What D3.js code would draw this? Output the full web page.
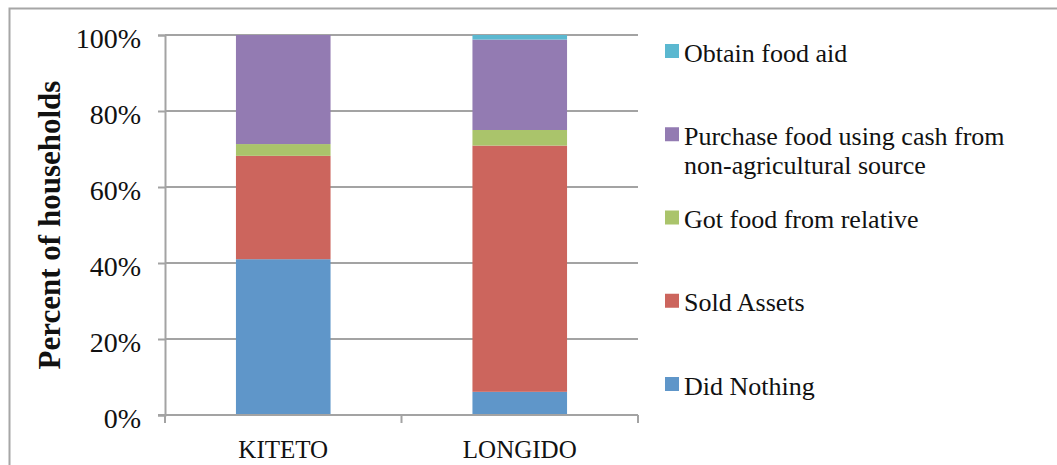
<!DOCTYPE html>
<html>
<head>
<meta charset="utf-8">
<script src="https://cdn.jsdelivr.net/npm/d3@7"></script>
<style>
  html, body { margin: 0; padding: 0; background: #fff; }
  svg { display: block; }
  text { font-family: "Liberation Serif", "Times New Roman", serif; fill: #111; }
</style>
</head>
<body>
<svg id="chart" width="1057" height="465"></svg>
<script>
// Coping strategies by district (percent of households)
const categories = ["KITETO", "LONGIDO"];
const didNothing = [41.0, 6.1];
const soldAssets = [27.2, 64.8];
const gotFoodFromRelative = [3.1, 4.1];
const purchaseFood = [28.7, 23.8];
const obtainFoodAid = [0.0, 1.2];

const seriesNames = [
  "Did Nothing",
  "Sold Assets",
  "Got food from relative",
  "Purchase food using cash from non-agricultural source",
  "Obtain food aid"
];
const seriesValues = [didNothing, soldAssets, gotFoodFromRelative, purchaseFood, obtainFoodAid];
const seriesColors = ["#5f96c9", "#cc655d", "#aac46b", "#937bb2", "#5bb8d0"];
const yTicks = [0, 20, 40, 60, 80, 100];

const rows = categories.map((c, i) => {
  const r = { category: c };
  seriesNames.forEach((s, k) => { r[s] = seriesValues[k][i]; });
  return r;
});
const stacked = d3.stack().keys(seriesNames)(rows);

const svg = d3.select("#chart");

// outer chart frame
svg.append("rect")
  .attr("x", 9.5).attr("y", 8.5)
  .attr("width", 1070).attr("height", 480)
  .attr("fill", "none").attr("stroke", "#a6a6a6").attr("stroke-width", 2);

const x = d3.scaleBand().domain(categories).range([165, 638])
  .paddingInner(0.6).paddingOuter(0.3);
const y = d3.scaleLinear().domain([0, 100]).range([415, 35]);

// gridlines
svg.append("g").selectAll("line").data(yTicks.filter(t => t > 0)).join("line")
  .attr("x1", 165).attr("x2", 638)
  .attr("y1", d => y(d)).attr("y2", d => y(d))
  .attr("stroke", "#a3a3a3").attr("stroke-width", 2);

// y axis
const yAxis = svg.append("g").attr("transform", "translate(165,0)")
  .call(d3.axisLeft(y).tickValues(yTicks).tickFormat(d => d + "%").tickSize(7).tickPadding(17));
yAxis.select(".domain").attr("stroke", "#a3a3a3").attr("stroke-width", 2);
yAxis.selectAll(".tick line").attr("stroke", "#a3a3a3").attr("stroke-width", 2);
yAxis.selectAll(".tick text")
  .attr("font-family", "Liberation Serif, serif")
  .attr("font-size", 28).attr("fill", "#111").attr("dy", "0.45em");

// bars
svg.append("g").selectAll("g").data(stacked).join("g")
  .attr("fill", (d, i) => seriesColors[i])
  .selectAll("rect").data(d => d).join("rect")
  .attr("x", d => x(d.data.category))
  .attr("width", x.bandwidth())
  .attr("y", d => y(d[1]))
  .attr("height", d => y(d[0]) - y(d[1]));

// x axis with category separators
const xAxis = svg.append("g").attr("transform", "translate(0,415)");
xAxis.append("line").attr("x1", 158).attr("x2", 638).attr("y1", 0).attr("y2", 0)
  .attr("stroke", "#a3a3a3").attr("stroke-width", 2);
const bounds = [165, (x(categories[0]) + x.bandwidth() + x(categories[1])) / 2, 638];
xAxis.selectAll("line.sep").data(bounds).join("line").attr("class", "sep")
  .attr("x1", d => d).attr("x2", d => d).attr("y1", 0).attr("y2", 8)
  .attr("stroke", "#a3a3a3").attr("stroke-width", 2);
xAxis.selectAll("text").data(categories).join("text")
  .attr("x", d => x(d) + x.bandwidth() / 2).attr("y", 43)
  .attr("text-anchor", "middle").attr("font-size", 25)
  .text(d => d);

// y axis title
svg.append("text")
  .attr("transform", "translate(60,225) rotate(-90)")
  .attr("text-anchor", "middle")
  .attr("font-size", 31).attr("font-weight", "bold")
  .text("Percent of households");

// legend (top to bottom: last series first)
const legendItems = [
  { k: 4, lines: ["Obtain food aid"] },
  { k: 3, lines: ["Purchase food using cash from", "non-agricultural source"] },
  { k: 2, lines: ["Got food from relative"] },
  { k: 1, lines: ["Sold Assets"] },
  { k: 0, lines: ["Did Nothing"] }
];
const ly = d3.scalePoint().domain(d3.range(legendItems.length)).range([44, 377]);
const legend = svg.append("g");
legendItems.forEach((item, i) => {
  const g = legend.append("g").attr("transform", `translate(665,${ly(i)})`);
  g.append("rect").attr("width", 14).attr("height", 14).attr("fill", seriesColors[item.k]);
  item.lines.forEach((t, j) => {
    g.append("text").attr("x", 19).attr("y", 17.5 + j * 29)
      .attr("font-size", 26).text(t);
  });
});
</script>
</body>
</html>
